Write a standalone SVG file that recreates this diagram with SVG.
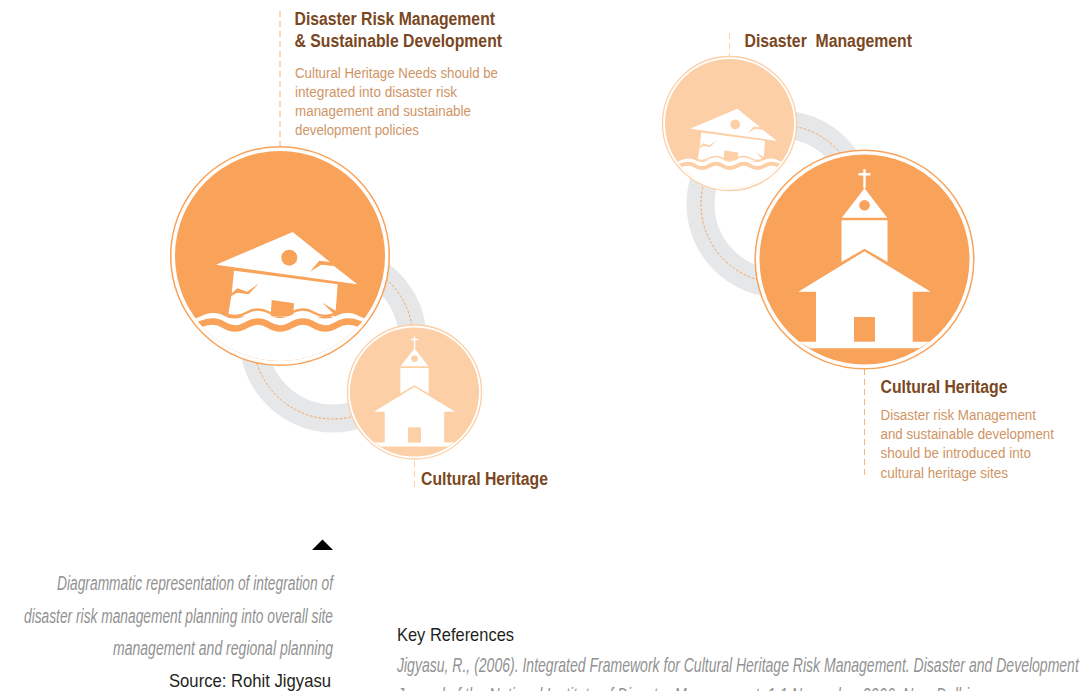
<svg xmlns="http://www.w3.org/2000/svg" xmlns:xlink="http://www.w3.org/1999/xlink" width="1086" height="691" viewBox="0 0 1086 691">
<style>
text{font-family:"Liberation Sans",Arial,sans-serif}
.title{font-size:18px;font-weight:bold;fill:#7a4722}
.body{font-size:15.5px;fill:#cf9566}
.cap{font-size:20px;font-style:italic;fill:#929292}
.src{font-size:19px;fill:#231f20}
.lead{stroke-width:1;fill:none;stroke-dasharray:6 4}
.ring{fill:none;stroke:#e6e7e8;stroke-width:28}
.dash{fill:none;stroke:#f9a25a;stroke-width:1;stroke-dasharray:2.5 1.8}
.w{fill:#fff}
.c{fill:currentColor}
</style>
<defs>
<clipPath id="inner"><circle r="105"/></clipPath>
<g id="house">
<circle r="105" class="c"/>
<g clip-path="url(#inner)">
<path class="w" d="M-46,14.7L57.7,28.3L55.7,54.7L42.3,46.7L54,58L54,61L-52,60L-51.3,55.7L-48.7,40L-42.7,36.7L-31.3,38.3L-21,27.3L-32.7,35.7L-42.7,32.3L-48.3,37.3Z"/>
<path class="w" d="M-64,8.7L12.7,-24L50,6L39.3,4.7L30,15.7L41.3,8.7L54,10L77.3,28.3Z"/>
<circle class="c" cx="9.3" cy="1.7" r="8"/>
<path class="c" d="M-8.3,44L14,47.3L13.3,60L-9.3,60Z"/>
<path fill="none" stroke="currentColor" stroke-width="2.5" d="M-90,61C-79,61 -78,54.5 -67,54.5S-56,60 -45,60S-33,53.5 -22,53.5S-11,59.5 0,59.5S12,53.5 23,53.5S34,60 45,60S57,54.5 68,54.5S79,61 90,61"/>
<path class="w" d="M-90,63C-79,63 -78,57 -67,57S-56,62.500 -45,62.500S-33,56 -22,56S-11,62 0,62S12,56 23,56S34,62.500 45,62.500S57,57 68,57S79,63 90,63V110H-90Z"/>
<path fill="none" stroke="currentColor" stroke-width="6.500" d="M-90,70C-79,70 -78,65.500 -67,65.500S-56,72.500 -45,72.500S-33,65.500 -22,65.500S-11,72.500 0,72.500S12,65.500 23,65.500S34,72.500 45,72.500S57,65.500 68,65.500S79,70 90,70"/>
</g>
</g>
<g id="church">
<circle r="105" class="c"/>
<path class="w" d="M-1.200,-90.200H1.200V-86.400H6V-84H1.200V-71.200H-1.200V-84H-6V-86.400H-1.200Z"/>
<path class="w" d="M0,-71.200L22.700,-41.800H-22.700Z"/>
<circle class="c" cy="-54.200" r="5.300"/>
<path class="w" d="M-23,-39.200H23V2.500L0,-10.800L-23,2.500Z"/>
<path class="w" d="M0,-8.200L66.200,32.200H48.200V82.200H65.600L54.500,88.800H-54.500L-65.600,82.200H-48.500V32.200H-66.200Z"/>
<rect class="c" x="-10.500" y="57.500" width="21" height="24.700"/>
</g>
</defs>

<g id="connectors">
<circle class="ring" cx="333" cy="339" r="79.500"/>
<circle class="dash" cx="333" cy="339" r="80"/>
<circle class="ring" cx="780" cy="204" r="79.500"/>
<circle class="dash" cx="780" cy="204" r="79"/>
<path class="lead" stroke="#f4b27f" d="M280,11V146"/>
<path class="lead" stroke="#fccfa6" d="M729.500,33V56"/>
<path class="lead" stroke="#f4b27f" d="M864.500,369V478"/>
<path class="lead" stroke="#fccfa6" d="M414.500,461V488"/>
</g>

<g id="node-dm-large" color="#f9a25a">
<circle cx="280" cy="256" r="109.300" fill="#fff" stroke="#f9a25a" stroke-width="1.500"/>
<use href="#house" xlink:href="#house" transform="translate(280,256)"/>
</g>
<g id="node-ch-small" color="#fccfa6">
<circle cx="414.500" cy="392" r="67" fill="#fff" stroke="#fccfa6" stroke-width="1.300"/>
<use href="#church" xlink:href="#church" transform="translate(414.500,392) scale(.615)"/>
</g>
<g id="node-dm-small" color="#fccfa6">
<circle cx="729.500" cy="123.500" r="67" fill="#fff" stroke="#fccfa6" stroke-width="1.300"/>
<use href="#house" xlink:href="#house" transform="translate(729.500,123.500) scale(.615)"/>
</g>
<g id="node-ch-large" color="#f9a25a">
<circle cx="864.500" cy="259.500" r="109.300" fill="#fff" stroke="#f9a25a" stroke-width="1.500"/>
<use href="#church" xlink:href="#church" transform="translate(864.500,259.500)"/>
</g>

<g id="label-drm">
<text class="title" x="294.500" y="25" textLength="200.500" lengthAdjust="spacingAndGlyphs">Disaster Risk Management</text>
<text class="title" x="294.500" y="47" textLength="207.500" lengthAdjust="spacingAndGlyphs">&amp; Sustainable Development</text>
<text class="body" x="295" y="78" textLength="203" lengthAdjust="spacingAndGlyphs">Cultural Heritage Needs should be</text>
<text class="body" x="295" y="97" textLength="162" lengthAdjust="spacingAndGlyphs">integrated into disaster risk</text>
<text class="body" x="295" y="116" textLength="176" lengthAdjust="spacingAndGlyphs">management and sustainable</text>
<text class="body" x="295" y="135" textLength="124" lengthAdjust="spacingAndGlyphs">development policies</text>
</g>
<g id="label-dm">
<text class="title" x="744.500" y="47" textLength="167.500" lengthAdjust="spacingAndGlyphs" xml:space="preserve">Disaster  Management</text>
</g>
<g id="label-ch-left">
<text class="title" x="421" y="484.500" textLength="127" lengthAdjust="spacingAndGlyphs">Cultural Heritage</text>
</g>
<g id="label-ch-right">
<text class="title" x="880.500" y="392.500" textLength="127" lengthAdjust="spacingAndGlyphs">Cultural Heritage</text>
<text class="body" x="880.500" y="420" textLength="155.500" lengthAdjust="spacingAndGlyphs">Disaster risk Management</text>
<text class="body" x="880.500" y="439" textLength="173.500" lengthAdjust="spacingAndGlyphs">and sustainable development</text>
<text class="body" x="880.500" y="458" textLength="150.500" lengthAdjust="spacingAndGlyphs">should be introduced into</text>
<text class="body" x="880.500" y="478" textLength="127.500" lengthAdjust="spacingAndGlyphs">cultural heritage sites</text>
</g>

<g id="caption">
<path d="M312,550L322.500,539.500L333,550Z" fill="#000"/>
<text class="cap" x="57" y="590" textLength="276" lengthAdjust="spacingAndGlyphs">Diagrammatic representation of integration of</text>
<text class="cap" x="24" y="623" textLength="309" lengthAdjust="spacingAndGlyphs">disaster risk management planning into overall site</text>
<text class="cap" x="113" y="655" textLength="220" lengthAdjust="spacingAndGlyphs">management and regional planning</text>
<text class="src" x="169" y="686.500" textLength="162" lengthAdjust="spacingAndGlyphs">Source: Rohit Jigyasu</text>
</g>
<g id="references">
<text class="src" x="397" y="640.500" font-size="20" textLength="117" lengthAdjust="spacingAndGlyphs">Key References</text>
<text class="cap" transform="translate(397,672) scale(.73,1)" textLength="934" lengthAdjust="spacingAndGlyphs">Jigyasu, R., (2006). Integrated Framework for Cultural Heritage Risk Management. Disaster and Development</text>
<text class="cap" x="397" y="702" textLength="572" lengthAdjust="spacingAndGlyphs">Journal of the National Institute of Disaster Management, 1:1 November 2006, New Delhi</text>
</g>
</svg>
